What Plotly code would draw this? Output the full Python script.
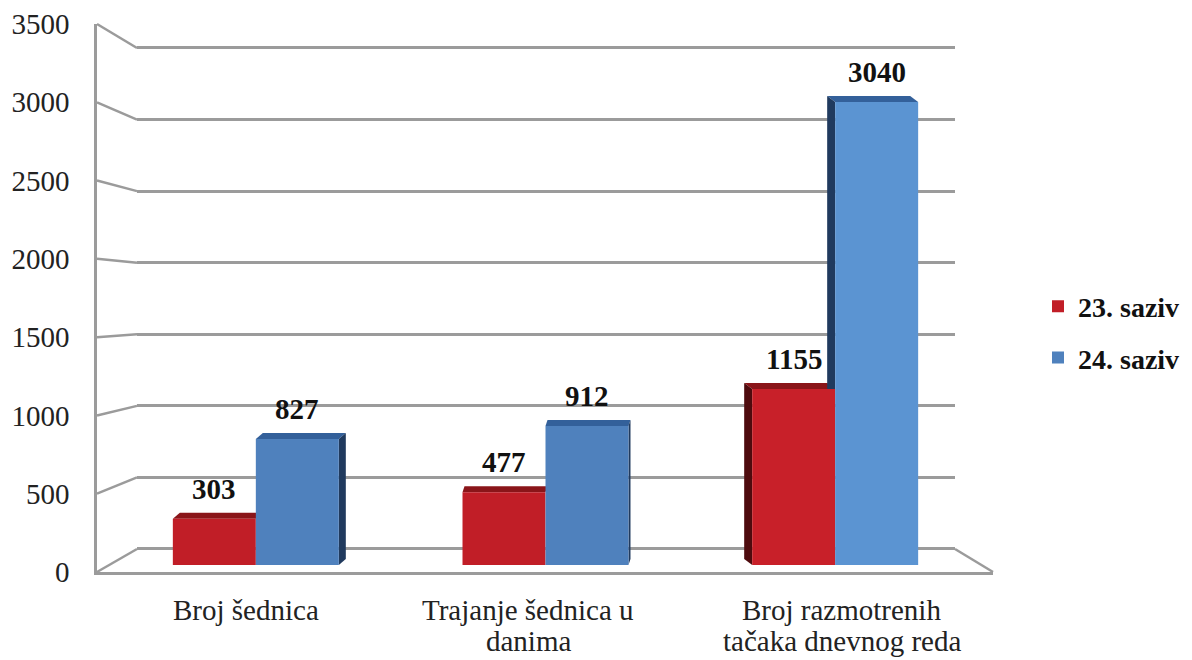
import plotly.graph_objects as go

# ---------------- data ----------------
categories = ["Broj šednica", "Trajanje šednica u<br>danima", "Broj razmotrenih<br>tačaka dnevnog reda"]
series_names = ["23. saziv", "24. saziv"]
saziv_23 = [303, 477, 1155]
saziv_24 = [827, 912, 3040]
y_ticks = [0, 500, 1000, 1500, 2000, 2500, 3000, 3500]

# ---------------- styling ----------------
W, H = 1192, 660
Y_MAX = 3500
GRID_TOP = 3520          # small headroom so the top gridline is drawn
BARGAP = 0.427
FONT = "Liberation Serif"
GRID = "#9b9b9b"
RED = "#C11E27"
BLUE = "#4F81BD"
RED_COLORS = ["#C11E27", "#C11E27", "#C82029"]
BLUE_COLORS = ["#4F81BD", "#4F81BD", "#5B94D2"]
RED_TOP, BLUE_TOP = "#8A1519", "#33609A"
RED_SIDE, BLUE_SIDE = "#4E0B0E", "#203A5E"
DEPTH_DX = [7, 2, -8]
DEPTH_DY = 6
LABEL_LINE_Y = [610, 641]
LABEL_XSHIFT = [0, -17, -2]


def px(x):
    return x / W


def py(y):
    return 1 - y / H


back_bottom, back_3500 = 549, 48
back_topv = back_bottom - (back_bottom - back_3500) * GRID_TOP / Y_MAX
back_x, back_y = [px(137), px(955)], [py(back_bottom), py(back_topv)]
bar_x, bar_y = [px(111), px(980)], [py(565), py(32)]
front_x, front_y = [px(97), px(993)], [py(572), py(24)]

fig = go.Figure()

# back wall (gridlines)
fig.add_trace(go.Scatter(x=[0.5], y=[0], mode="markers", marker=dict(opacity=0),
                         showlegend=False, hoverinfo="skip", xaxis="x", yaxis="y"))

# bars
idx = list(range(len(categories)))
fig.add_trace(go.Bar(x=idx, y=saziv_23, name=series_names[0], marker=dict(color=RED_COLORS, line=dict(width=0)),
                     xaxis="x2", yaxis="y2", legendgroup="a", hoverinfo="skip"))
fig.add_trace(go.Bar(x=idx, y=saziv_24, name=series_names[1], marker=dict(color=BLUE_COLORS, line=dict(width=0)),
                     xaxis="x2", yaxis="y2", legendgroup="b", hoverinfo="skip"))

# front plane (labels)
fig.add_trace(go.Scatter(x=idx, y=[0] * len(categories), mode="markers", marker=dict(opacity=0),
                         showlegend=False, hoverinfo="skip", xaxis="x3", yaxis="y3"))

shapes = []
# perspective connectors between front axis and back wall
back_py0 = back_y[0]
back_pyv = (py(back_3500) - py(back_bottom)) / Y_MAX
for v in y_ticks:
    yf = front_y[0] + v / Y_MAX * (front_y[1] - front_y[0])
    yb = back_py0 + v * back_pyv
    shapes.append(dict(type="line", xref="paper", yref="paper", x0=front_x[0], y0=yf, x1=back_x[0], y1=yb,
                       line=dict(color=GRID, width=2.5), layer="below"))
shapes.append(dict(type="line", xref="paper", yref="paper", x0=front_x[1], y0=front_y[0], x1=back_x[1], y1=back_y[0],
                   line=dict(color=GRID, width=2.5), layer="below"))

# 3D faces of bars
cat_px = (bar_x[1] - bar_x[0]) * W / len(categories)
bw = cat_px * (1 - BARGAP) / 2
unit_px = (bar_y[1] - bar_y[0]) * H / Y_MAX
half = (1 - BARGAP) / 2
annotations = []
for s, (vals, top_c, side_c) in enumerate([(saziv_23, RED_TOP, RED_SIDE), (saziv_24, BLUE_TOP, BLUE_SIDE)]):
    for i, v in enumerate(vals):
        xl = i - half + s * half
        dx, dy = DEPTH_DX[i], DEPTH_DY
        h = v * unit_px
        base = dict(type="path", xref="x2", yref="y2", xsizemode="pixel", ysizemode="pixel",
                    xanchor=xl, yanchor=v, line=dict(width=0), layer="below")
        shapes.append(dict(base, path=f"M0,0 L{bw},0 L{bw + dx},{dy} L{dx},{dy} Z", fillcolor=top_c))
        if dx > 0 and s == 1:
            shapes.append(dict(base, path=f"M{bw},0 L{bw + dx},{dy} L{bw + dx},{dy - h} L{bw},{-h} Z",
                               fillcolor=side_c))
        if dx < 0:
            shapes.append(dict(base, path=f"M0,0 L{dx},{dy} L{dx},{dy - h} L0,{-h} Z", fillcolor=side_c))
        annotations.append(dict(x=xl + half / 2, y=v, xref="x2", yref="y2", text=str(v), showarrow=False,
                                yanchor="middle", yshift=30,
                                font=dict(family=FONT, size=29, color="#111111", weight="bold")))

# category labels (one annotation per line, tight line spacing)
for i, cat in enumerate(categories):
    for k, line in enumerate(cat.split("<br>")):
        annotations.append(dict(x=i, y=py(LABEL_LINE_Y[k]), xref="x3", yref="paper", text=line,
                                showarrow=False, yanchor="middle", xanchor="center", xshift=LABEL_XSHIFT[i],
                                font=dict(family=FONT, size=29, color="#222222")))

fig.update_layout(
    width=W, height=H,
    margin=dict(l=0, r=0, t=0, b=0, autoexpand=False),
    paper_bgcolor="white", plot_bgcolor="rgba(0,0,0,0)",
    barmode="group", bargap=BARGAP, bargroupgap=0,
    showlegend=True,
    legend=dict(x=px(1038), y=py(332), xanchor="left", yanchor="middle", traceorder="grouped",
                tracegroupgap=12, bgcolor="rgba(0,0,0,0)",
                font=dict(family=FONT, size=28, color="#111111", weight="bold")),
    xaxis=dict(domain=back_x, range=[0, 1], showgrid=False, zeroline=False, showline=False,
               showticklabels=False, ticks="", anchor="y", automargin=False),
    yaxis=dict(domain=back_y, range=[0, GRID_TOP], tickvals=y_ticks, showgrid=True, gridcolor=GRID, gridwidth=2.5,
               zeroline=True, zerolinecolor=GRID, zerolinewidth=2.5, showline=False, showticklabels=False,
               ticks="", anchor="x", automargin=False),
    xaxis2=dict(domain=bar_x, range=[-0.5, len(categories) - 0.5], visible=False, anchor="y2", automargin=False),
    yaxis2=dict(domain=bar_y, range=[0, Y_MAX], visible=False, anchor="x2", automargin=False),
    xaxis3=dict(domain=front_x, range=[-0.5, len(categories) - 0.5], anchor="y3", showline=True,
                linecolor=GRID, linewidth=2.5, showgrid=False, zeroline=False, ticks="",
                showticklabels=False, automargin=False),
    yaxis3=dict(domain=front_y, range=[0, Y_MAX], tickvals=y_ticks, anchor="x3", showline=True,
                linecolor=GRID, linewidth=2.5, showgrid=False, zeroline=False, ticks="", automargin=False,
                ticklabelstandoff=19, tickfont=dict(family=FONT, size=29, color="#222222")),
    shapes=shapes,
    annotations=annotations,
)

fig.write_html("out.html", config={"displayModeBar": False},
               post_script="document.body.style.margin='0';document.body.style.padding='0';")
